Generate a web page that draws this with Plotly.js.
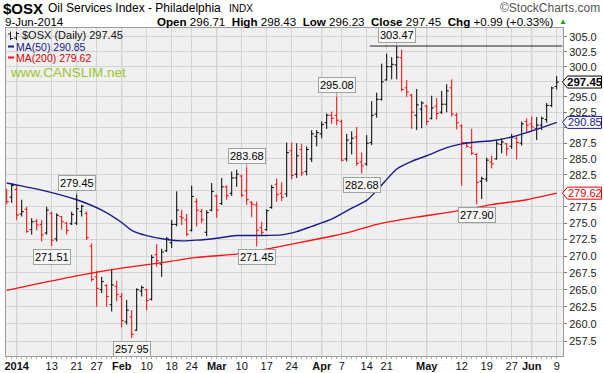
<!DOCTYPE html>
<html><head><meta charset="utf-8">
<script src="https://cdn.plot.ly/plotly-3.0.1.min.js"></script>
<style>html,body{margin:0;padding:0;background:#fff;}#chart{width:604px;height:373px;}</style>
</head><body><div id="chart"></div>
<script>
// ---------- data ----------
const dates = ['2013-12-30','2013-12-31',
'2014-01-02','2014-01-03','2014-01-06','2014-01-07','2014-01-08','2014-01-09','2014-01-10','2014-01-13','2014-01-14','2014-01-15','2014-01-16','2014-01-17','2014-01-21','2014-01-22','2014-01-23','2014-01-24','2014-01-27','2014-01-28','2014-01-29','2014-01-30','2014-01-31',
'2014-02-03','2014-02-04','2014-02-05','2014-02-06','2014-02-07','2014-02-10','2014-02-11','2014-02-12','2014-02-13','2014-02-14','2014-02-18','2014-02-19','2014-02-20','2014-02-21','2014-02-24','2014-02-25','2014-02-26','2014-02-27','2014-02-28',
'2014-03-03','2014-03-04','2014-03-05','2014-03-06','2014-03-07','2014-03-10','2014-03-11','2014-03-12','2014-03-13','2014-03-14','2014-03-17','2014-03-18','2014-03-19','2014-03-20','2014-03-21','2014-03-24','2014-03-25','2014-03-26','2014-03-27','2014-03-28','2014-03-31',
'2014-04-01','2014-04-02','2014-04-03','2014-04-04','2014-04-07','2014-04-08','2014-04-09','2014-04-10','2014-04-11','2014-04-14','2014-04-15','2014-04-16','2014-04-17','2014-04-21','2014-04-22','2014-04-23','2014-04-24','2014-04-25','2014-04-28','2014-04-29','2014-04-30',
'2014-05-01','2014-05-02','2014-05-05','2014-05-06','2014-05-07','2014-05-08','2014-05-09','2014-05-12','2014-05-13','2014-05-14','2014-05-15','2014-05-16','2014-05-19','2014-05-20','2014-05-21','2014-05-22','2014-05-23','2014-05-27','2014-05-28','2014-05-29','2014-05-30',
'2014-06-02','2014-06-03','2014-06-04','2014-06-05','2014-06-06','2014-06-09'];

const opens = [279.5,279.0,
280.2,276.4,277.1,274.0,275.3,274.8,273.5,276.5,272.6,276.0,275.0,274.9,275.0,276.8,276.5,271.5,266.9,265.0,265.6,262.8,265.5,
264.0,260.3,261.0,259.1,264.8,265.0,263.6,270.2,268.8,270.8,272.0,274.8,276.0,275.5,273.9,278.3,276.8,273.6,277.0,
279.2,278.0,280.6,279.6,282.0,282.3,280.0,278.2,277.8,274.3,274.0,277.4,281.0,279.6,279.5,286.3,282.6,286.5,283.0,285.0,288.6,
289.0,290.8,292.0,292.0,291.0,285.0,287.5,288.5,284.5,284.2,287.6,292.2,294.6,297.8,300.0,300.3,301.5,296.5,295.3,292.0,293.0,
293.5,291.5,293.5,292.5,293.8,296.5,292.0,290.3,287.6,286.8,285.7,281.5,281.8,284.5,285.0,287.3,287.4,287.0,288.3,287.5,291.0,
290.6,289.8,290.4,291.3,293.6,296.71];

const highs = [280.3,281.2,
280.75,278.6,277.5,275.75,275.6,275.5,277.5,276.75,276.5,276.1,275.2,276.75,279.45,277.8,276.75,271.9,267.8,266.9,265.8,268.1,266.3,
264.5,263.5,262.0,265.2,265.6,265.1,270.2,271.8,271.1,272.9,275.5,279.9,277.0,276.4,280.8,278.8,277.2,277.0,281.2,
279.4,282.0,280.8,283.0,283.3,282.5,283.68,278.4,278.3,275.2,277.1,280.9,281.9,281.3,287.6,287.6,287.5,287.4,287.0,289.6,289.6,
291.0,292.3,292.6,295.08,291.3,289.0,289.4,290.1,286.0,288.8,294.3,295.7,300.5,302.2,301.6,303.47,302.9,297.8,295.5,296.3,294.3,
293.7,295.2,294.8,296.0,297.1,297.9,292.4,290.5,287.7,289.8,285.9,282.2,285.2,285.5,288.0,288.3,287.5,289.0,288.6,291.0,291.5,
291.8,291.7,291.8,294.0,296.7,298.43];

const lows = [277.9,278.1,
275.5,276.0,273.5,273.25,273.9,272.2,273.25,271.51,272.2,274.0,273.25,274.7,274.7,276.0,272.4,266.2,262.5,264.5,262.5,261.8,263.3,
259.5,259.9,257.95,259.0,264.0,262.0,263.4,268.4,266.9,270.6,271.2,274.5,274.7,273.0,273.7,274.5,275.0,273.0,276.8,
275.8,277.8,278.6,279.2,280.6,279.0,277.8,275.9,271.45,273.0,273.8,277.2,278.3,278.4,279.0,281.8,282.0,282.3,282.4,284.5,287.0,
288.3,289.8,290.6,290.4,284.6,284.6,285.7,283.9,282.68,283.9,287.2,291.6,294.4,297.7,297.9,297.9,295.9,295.0,289.8,289.6,289.9,
290.4,291.3,291.3,292.2,292.5,291.8,289.7,280.8,286.8,285.6,277.90,278.7,281.4,283.5,284.9,285.9,285.5,286.6,284.9,287.1,289.2,
289.4,288.0,289.6,290.8,293.3,296.23];

const closes = [278.3,280.8,
276.25,276.75,273.75,275.2,274.7,273.2,277.0,272.4,276.2,275.2,273.9,276.3,277.2,277.6,272.8,266.5,265.2,266.2,264.0,265.7,264.3,
260.5,262.0,258.5,265.0,265.3,263.4,269.8,269.3,270.6,272.6,274.8,277.0,275.8,273.3,279.1,277.0,275.5,276.6,279.9,
277.0,280.6,279.2,282.0,282.6,279.3,278.6,277.9,273.9,273.6,276.9,280.5,279.4,279.0,286.0,282.4,285.5,282.8,286.5,289.0,289.2,
290.5,292.0,291.5,291.2,284.8,288.0,288.3,284.3,283.9,287.5,292.0,294.6,297.5,300.0,300.4,301.6,296.2,295.8,292.5,293.7,294.0,
291.0,293.2,292.3,293.8,296.0,292.2,290.8,287.6,287.0,285.9,281.3,281.9,284.8,284.2,287.4,287.7,286.6,288.5,287.6,290.6,290.4,
290.1,290.4,291.5,293.6,296.46,297.45];

const ma50Dates = ['2013-12-30','2014-01-02','2014-01-09','2014-01-21','2014-01-28','2014-02-03','2014-02-05','2014-02-10','2014-02-14','2014-02-20','2014-02-25','2014-03-03','2014-03-07','2014-03-14','2014-03-20','2014-03-25','2014-03-28','2014-04-03','2014-04-09','2014-04-14','2014-04-16','2014-04-23','2014-04-28','2014-05-01','2014-05-07','2014-05-12','2014-05-15','2014-05-20','2014-05-27','2014-05-30','2014-06-04','2014-06-09'];
const ma50Values = [281.2,280.9,280.1,278.6,277.0,275.1,273.9,273.1,272.5,272.3,272.4,272.7,273.1,273.1,273.2,273.7,274.5,275.6,277.3,278.5,280.0,283.4,284.6,285.5,286.8,287.4,287.7,287.9,288.5,289.2,290.0,290.85];

const ma200Dates = ['2013-12-30','2014-01-09','2014-01-22','2014-02-03','2014-02-12','2014-02-25','2014-03-07','2014-03-14','2014-03-25','2014-04-03','2014-04-09','2014-04-16','2014-04-28','2014-05-07','2014-05-13','2014-05-20','2014-05-30','2014-06-09'];
const ma200Values = [264.9,266.0,267.2,268.2,268.9,269.8,270.3,270.9,271.95,273.0,273.7,274.8,275.8,276.6,277.1,277.85,278.6,279.62];

const calloutDates  = ['2014-01-21','2014-01-13','2014-02-05','2014-03-11','2014-03-13','2014-04-04','2014-04-11','2014-04-23','2014-05-15'];
const calloutValues = [279.45,271.51,257.95,283.68,271.45,295.08,282.68,303.47,277.90];

const resistanceValue = 303.47;
const resistanceFrom = '2014-04-14';

const tickDates  = ['2014-01-02','2014-01-13','2014-01-21','2014-01-27','2014-02-03','2014-02-10','2014-02-18','2014-02-24','2014-03-03','2014-03-10','2014-03-17','2014-03-24','2014-04-01','2014-04-07','2014-04-14','2014-04-21','2014-05-01','2014-05-12','2014-05-19','2014-05-27','2014-06-02','2014-06-09'];
const tickLabels = ['2014','13','21','27','Feb','10','18','24','Mar','10','17','24','Apr','7','14','21','May','12','19','27','Jun','9'];

const yTicks = [257.5,260.0,262.5,265.0,267.5,270.0,272.5,275.0,277.5,280.0,282.5,285.0,287.5,290.0,292.5,295.0,297.5,300.0,302.5,305.0];

// ---------- layout helpers ----------
const W=604, H=373, ML=6, MR=41, MT=28, MB=17;
const PW=W-ML-MR, PH=H-MT-MB;
const yLo=Math.log10(255.40), yHi=Math.log10(306.53);
const xLo=-2.14, xHi=109.26;
const FONT='Liberation Sans, Arial, sans-serif';
const px = v => (v-ML)/PW;
const py = v => (H-MB-v)/PH;
const yP = val => (Math.log10(val)-yLo)/(yHi-yLo);
const xOf = d => dates.indexOf(d)-2;

const xAll = dates.map((d,i)=>i-2);
const isUp = closes.map((c,i)=> i===0 ? c>=opens[0] : c>=closes[i-1]);
function ohlcTrace(flag, color){
  const ids=[]; isUp.forEach((u,i)=>{ if(u===flag) ids.push(i); });
  return {type:'ohlc', x:ids.map(i=>xAll[i]), open:ids.map(i=>opens[i]), high:ids.map(i=>highs[i]),
    low:ids.map(i=>lows[i]), close:ids.map(i=>closes[i]), tickwidth:0.42, hoverinfo:'skip',
    increasing:{line:{color:color,width:1}}, decreasing:{line:{color:color,width:1}}, showlegend:false};
}

const traces = [
  {type:'scatter', mode:'lines', x:ma200Dates.map(xOf), y:ma200Values, line:{color:'#ff1010',width:1.4,shape:'spline',smoothing:0.6}, hoverinfo:'skip', showlegend:false},
  {type:'scatter', mode:'lines', x:ma50Dates.map(xOf), y:ma50Values, line:{color:'#1a1a8a',width:1.4,shape:'spline',smoothing:0.6}, hoverinfo:'skip', showlegend:false},
  {type:'scatter', mode:'lines', x:[xOf(resistanceFrom)+0.6, xHi-0.15], y:[resistanceValue,resistanceValue], line:{color:'#222',width:1}, hoverinfo:'skip', showlegend:false},
  ohlcTrace(false,'#ff0000'),
  ohlcTrace(true,'#000000')
];

const tickVals = tickDates.map(xOf);
const tickText = tickLabels.map(t => /^\d{1,2}$/.test(t) ? t : '<b>'+t+'</b>');
const monthTicks = tickLabels.map((t,i)=>/^\d{1,2}$/.test(t)?null:tickVals[i]).filter(v=>v!==null);

// right-side value tags
const tags = [
  {v:closes[closes.length-1], c:'#000', bold:true},
  {v:ma50Values[ma50Values.length-1], c:'#1a1a8a', bold:false},
  {v:ma200Values[ma200Values.length-1], c:'#e00000', bold:false}
];
// tick labels hidden under a tag are left blank
const yText = yTicks.map(v => tags.some(t => Math.abs(Math.log10(t.v)-Math.log10(v))*PH/(yHi-yLo) < 6.5) ? '' : v.toFixed(1));

const shapes = [];
monthTicks.forEach(v=>shapes.push({type:'line', xref:'x', yref:'paper', x0:v, x1:v, y0:0, y1:1, line:{color:'#a9a9a9',width:1}, layer:'between'}));

function pathPx(pts){ return pts.map(p=>(p[0]==='M'?'M':'L')+px(p[1])+','+py(p[2])).join(' '); }
// legend OHLC icon
shapes.push({type:'path', xref:'paper', yref:'paper', line:{color:'#222',width:1},
  path: pathPx([['M',10.5,31.5],['L',10.5,40],['M',8,34],['L',10.5,34],['M',10.5,38.5],['L',13,38.5],
                ['M',16.5,31.5],['L',16.5,40],['M',14,38],['L',16.5,38],['M',16.5,33.5],['L',19,33.5]])});
// MA legend dashes
shapes.push({type:'line', xref:'paper', yref:'paper', x0:px(8), x1:px(14), y0:py(46.5), y1:py(46.5), line:{color:'#1a1a8a',width:2}});
shapes.push({type:'line', xref:'paper', yref:'paper', x0:px(8), x1:px(14), y0:py(57.5), y1:py(57.5), line:{color:'#ff1010',width:2}});

const annotations = [];
tags.forEach(t=>{
  const yc = H-MB - yP(t.v)*PH;
  shapes.push({type:'path', xref:'paper', yref:'paper', fillcolor:'#ffffff', line:{color:t.c,width:1}, layer:'above',
    path: pathPx([['M',562.5,yc],['L',567.5,yc-6],['L',601.5,yc-6],['L',601.5,yc+6],['L',567.5,yc+6],['L',562.5,yc]])+' Z'});
  annotations.push({xref:'paper', yref:'paper', x:px(585), y:yP(t.v), xanchor:'center', yanchor:'middle', showarrow:false, borderpad:0,
    text: t.bold ? '<b>'+t.v.toFixed(2)+'</b>' : t.v.toFixed(2), font:{family:FONT,size:t.bold?11.5:11,color:t.c}});
});

// callouts
calloutDates.forEach((d,i)=>{
  const v = calloutValues[i];
  const k = dates.indexOf(d);
  const above = Math.abs(highs[k]-v) < Math.abs(lows[k]-v);
  annotations.push({xref:'x', yref:'y', x:xOf(d), y:Math.log10(v), text:v.toFixed(2), showarrow:true, arrowhead:0, arrowwidth:1,
    arrowcolor:'#9aa49a', ax:0, ay: above? -11 : 11, standoff:0, bgcolor:'#f7f7f7', bordercolor:'#9aa49a', borderwidth:1, borderpad:1,
    font:{family:FONT,size:11,color:'#000'}});
});

// header texts
const nb='\u00a0';
function txt(t,x,y,size,color,anchor){ annotations.push({xref:'paper', yref:'paper', x:px(x), y:py(y), text:t, showarrow:false, borderpad:0, xanchor:anchor||'left', yanchor:'middle', font:{family:FONT,size:size,color:color||'#000'}}); }
txt('<b>$OSX</b>',2,8.5,15);
txt('Oil Services Index - Philadelphia',47,8.5,12);
txt('INDX',228,8.5,10);
txt('©StockCharts.com',601,8.5,12,'#555','right');
txt('9-Jun-2014',4,21.5,11.5);
txt('<b>Open</b> 296.71'+nb+nb+'<b>High</b> 298.43'+nb+nb+'<b>Low</b> 296.23'+nb+nb+'<b>Close</b> 297.45'+nb+nb+'<b>Chg</b> +0.99 (+0.33%)',555,21.5,11.6,'#000','right');
txt('▲',558,22,8,'#10a010');
// in-plot legend
txt('$OSX (Daily) 297.45',21,35.5,11,'#111');
txt('MA(50) 290.85',15,46.5,10.5,'#1a1a8a');
txt('MA(200) 279.62',15,57.5,10.5,'#e00000');
txt('www.CANSLIM.net',9,72,13.5,'#9cc430');

const layout = {
  width:W, height:H, margin:{l:ML,r:MR,t:MT,b:MB,pad:0},
  paper_bgcolor:'#ffffff', plot_bgcolor:'#f0f0f0', showlegend:false,
  xaxis:{range:[xLo,xHi], tickmode:'array', tickvals:tickVals, ticktext:tickText, tickangle:0,
    tickfont:{family:FONT,size:11,color:'#111'}, ticks:'', showgrid:true, gridcolor:'#d4d4d4', gridwidth:1,
    zeroline:false, showline:true, mirror:true, linecolor:'#9c9c9c', linewidth:1,
    rangeslider:{visible:false}, fixedrange:true,
    minor:{tickmode:'array', tickvals:xAll, ticks:'outside', ticklen:2, tickcolor:'#aaa', showgrid:false}},
  yaxis:{type:'log', range:[yLo,yHi], side:'right', tickmode:'array', tickvals:yTicks, ticktext:yText,
    tickfont:{family:FONT,size:11,color:'#222'}, ticks:'outside', ticklen:3, tickcolor:'#777',
    showgrid:true, gridcolor:'#d4d4d4', gridwidth:1, zeroline:false, showline:true, mirror:true, linecolor:'#9c9c9c', linewidth:1, fixedrange:true},
  shapes:shapes, annotations:annotations
};

Plotly.newPlot('chart', traces, layout, {staticPlot:true, displayModeBar:false});
</script>
</body></html>
